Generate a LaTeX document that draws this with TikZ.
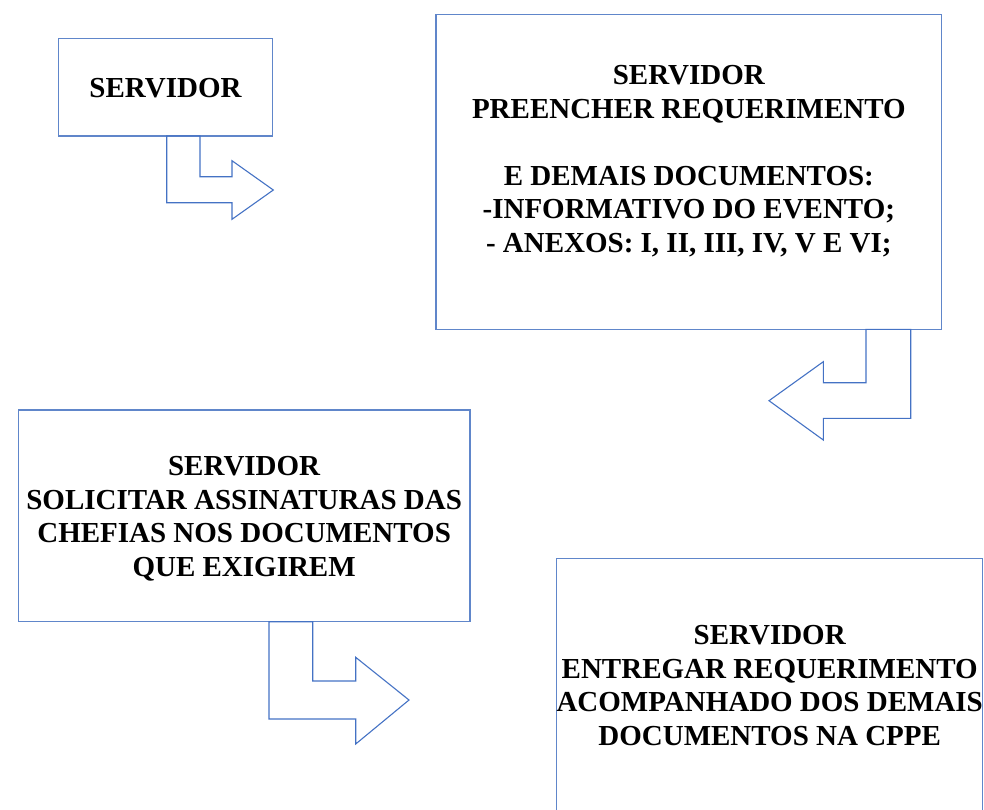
\documentclass[tikz,border=0pt]{standalone}
\usepackage{fontspec}
\setmainfont{Liberation Serif}
\definecolor{boxblue}{RGB}{96,134,202}
\definecolor{arrowblue}{RGB}{68,114,196}
\tikzset{
  stepbox/.style={draw=boxblue, line width=1.1pt, rectangle, inner sep=0pt},
  steptext/.style={inner sep=0pt, align=center, anchor=north,
    font=\fontsize{29}{33.5}\selectfont\bfseries},
  bentarrow/.style={draw=arrowblue, line width=1.1pt, line join=miter}
}
\begin{document}
\begin{tikzpicture}[x=1pt, y=-1pt]
\useasboundingbox (0,0) rectangle (984,809);
% boxes
\node[stepbox, minimum width=214.4pt, minimum height=97.7pt] (b1) at (165.5,87.15) {};
\node[stepbox, minimum width=505.7pt, minimum height=314.6pt] (b2) at (688.85,172) {};
\node[stepbox, minimum width=451.7pt, minimum height=211.7pt] (b3) at (244.15,515.85) {};
\node[stepbox, minimum width=426pt, minimum height=260pt] (b4) at (769.7,688.3) {};
% texts
\node[steptext] (t1) at (165.5,78.5) {SERVIDOR};
\node[steptext] (t2) at (688.85,65.5) {SERVIDOR\\PREENCHER REQUERIMENTO\\[33.5pt]E DEMAIS DOCUMENTOS:\\-INFORMATIVO DO EVENTO;\\- ANEXOS: I, II, III, IV, V E VI;};
\node[steptext] (t3) at (244.15,456.5) {SERVIDOR\\SOLICITAR ASSINATURAS DAS\\CHEFIAS NOS DOCUMENTOS\\QUE EXIGIREM};
\node[steptext] (t4) at (769.7,625.5) {SERVIDOR\\ENTREGAR REQUERIMENTO\\ACOMPANHADO DOS DEMAIS\\DOCUMENTOS NA CPPE};
% bent arrows
\draw[bentarrow] (166.7,135.9) -- (200,135.9) -- (200,176.7) -- (232,176.7) -- (232,160.7)
  -- (273.3,190) -- (232,219.3) -- (232,202.7) -- (166.7,202.7) -- cycle;
\draw[bentarrow] (866,329.3) -- (910.7,329.3) -- (910.7,418.3) -- (823.3,418.3) -- (823.3,440)
  -- (769,400.7) -- (823.3,361.7) -- (823.3,382.7) -- (866,382.7) -- cycle;
\draw[bentarrow] (269,621.7) -- (312.7,621.7) -- (312.7,681) -- (355.7,681) -- (355.7,657.3)
  -- (409,700) -- (355.7,744) -- (355.7,719) -- (269,719) -- cycle;
\end{tikzpicture}
\end{document}
